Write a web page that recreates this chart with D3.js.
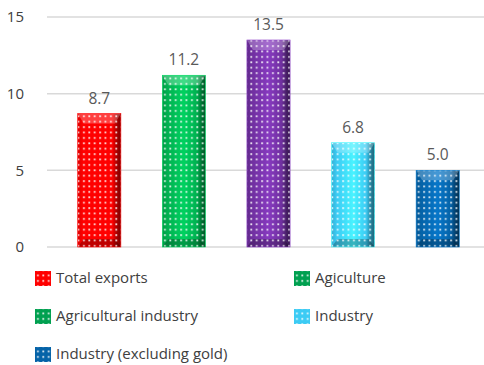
<!DOCTYPE html>
<html><head><meta charset="utf-8">
<script src="https://cdn.jsdelivr.net/npm/d3@7"></script>
<style>body{margin:0;background:#fff}svg{display:block}</style>
</head><body>
<svg id="c" width="484" height="365"></svg>
<script>
const categories = ["Total exports","Agiculture","Agricultural industry","Industry","Industry (excluding gold)"];
const values = [8.7, 11.2, 13.5, 6.8, 5.0];
const barColors = ["#FF0000","#00B050","#7030A0","#3CCBF4","#0563A8"];
const legendLabels = ["Total exports","Agiculture","Agricultural industry","Industry","Industry (excluding gold)"];
const legendColors = ["#FF0000","#00A050","#00A050","#3CCBF4","#0563A8"];
const yTicks = [0,5,10,15];

const svg = d3.select("#c");
const font = "'Open Sans', 'Noto Sans', sans-serif";
const y = d3.scaleLinear().domain([0,15]).range([247,17]);
const x = d3.scaleBand().domain(categories).range([57,480]).paddingInner(0.49).paddingOuter(0.245);

const defs = svg.append("defs");
barColors.forEach((c,i)=>{
  const dk = d3.color(c).darker(1.3), lt = d3.color(c).brighter(0.5);
  const g = defs.append("linearGradient").attr("id","g"+i).attr("x1",0).attr("x2",1).attr("y1",0).attr("y2",0);
  [[0,d3.color(c).darker(0.4)],[0.12,c],[0.5,lt],[0.8,c],[0.92,dk],[1,d3.color(c).darker(2)]].forEach(([o,col])=>g.append("stop").attr("offset",o).attr("stop-color",col));
});
const p = defs.append("pattern").attr("id","dots").attr("width",5.4).attr("height",5.4).attr("patternUnits","userSpaceOnUse");
p.append("rect").attr("x",2).attr("y",2).attr("width",1.8).attr("height",1.8).attr("fill","#fff").attr("opacity",0.85);

// gridlines
svg.append("g").selectAll("line").data(yTicks).join("line")
  .attr("x1",47).attr("x2",484).attr("y1",d=>y(d)).attr("y2",d=>y(d))
  .attr("stroke","#d9d9d9").attr("stroke-width",1.5);
svg.append("g").selectAll("text").data(yTicks).join("text")
  .attr("x",24).attr("y",d=>y(d)).attr("dy","0.35em").attr("text-anchor","end")
  .attr("font-family",font).attr("font-size",15).attr("fill","#404040").text(d=>d);

const bars = svg.append("g").selectAll("g").data(values).join("g");
bars.append("rect").attr("x",(d,i)=>x(categories[i])).attr("width",x.bandwidth())
  .attr("y",d=>y(d)).attr("height",d=>y(0)-y(d)).attr("fill",(d,i)=>"url(#g"+i+")");
bars.append("path").attr("d",(d,i)=>{const x0=x(categories[i]),w=x.bandwidth(),t=y(d);
  return `M${x0},${t}L${x0+w},${t}L${x0+w-6},${t+10}L${x0+6},${t+10}Z`;})
  .attr("fill","#fff").attr("opacity",0.25);
bars.append("path").attr("d",(d,i)=>{const x0=x(categories[i]),w=x.bandwidth(),b=y(0);
  return `M${x0},${b}L${x0+w},${b}L${x0+w-6},${b-8}L${x0+6},${b-8}Z`;})
  .attr("fill","#000").attr("opacity",0.25);
bars.append("rect").attr("x",(d,i)=>x(categories[i])).attr("width",x.bandwidth())
  .attr("y",d=>y(d)).attr("height",d=>y(0)-y(d)).attr("fill","url(#dots)")
  .attr("stroke",(d,i)=>d3.color(barColors[i]).brighter(0.6)).attr("stroke-width",0.6);
bars.append("text").attr("x",(d,i)=>x(categories[i])+x.bandwidth()/2).attr("y",d=>y(d)-10)
  .attr("text-anchor","middle").attr("font-family",font).attr("font-size",15.5).attr("fill","#595959")
  .text(d=>d.toFixed(1));

// legend
const lx=[35,294], ly=[278,316,354];
const lg = svg.append("g").selectAll("g").data(legendLabels).join("g")
  .attr("transform",(d,i)=>`translate(${lx[i%2]},${ly[Math.floor(i/2)]})`);
lg.append("rect").attr("x",0).attr("y",-7).attr("width",16).attr("height",15).attr("fill",(d,i)=>legendColors[i]);
lg.append("rect").attr("x",0).attr("y",-7).attr("width",16).attr("height",15).attr("fill","url(#dots)");
lg.append("text").attr("x",21).attr("y",0).attr("dy","0.35em").attr("font-family",font)
  .attr("font-size",15).attr("fill","#404040").text(d=>d);
</script>
</body></html>
